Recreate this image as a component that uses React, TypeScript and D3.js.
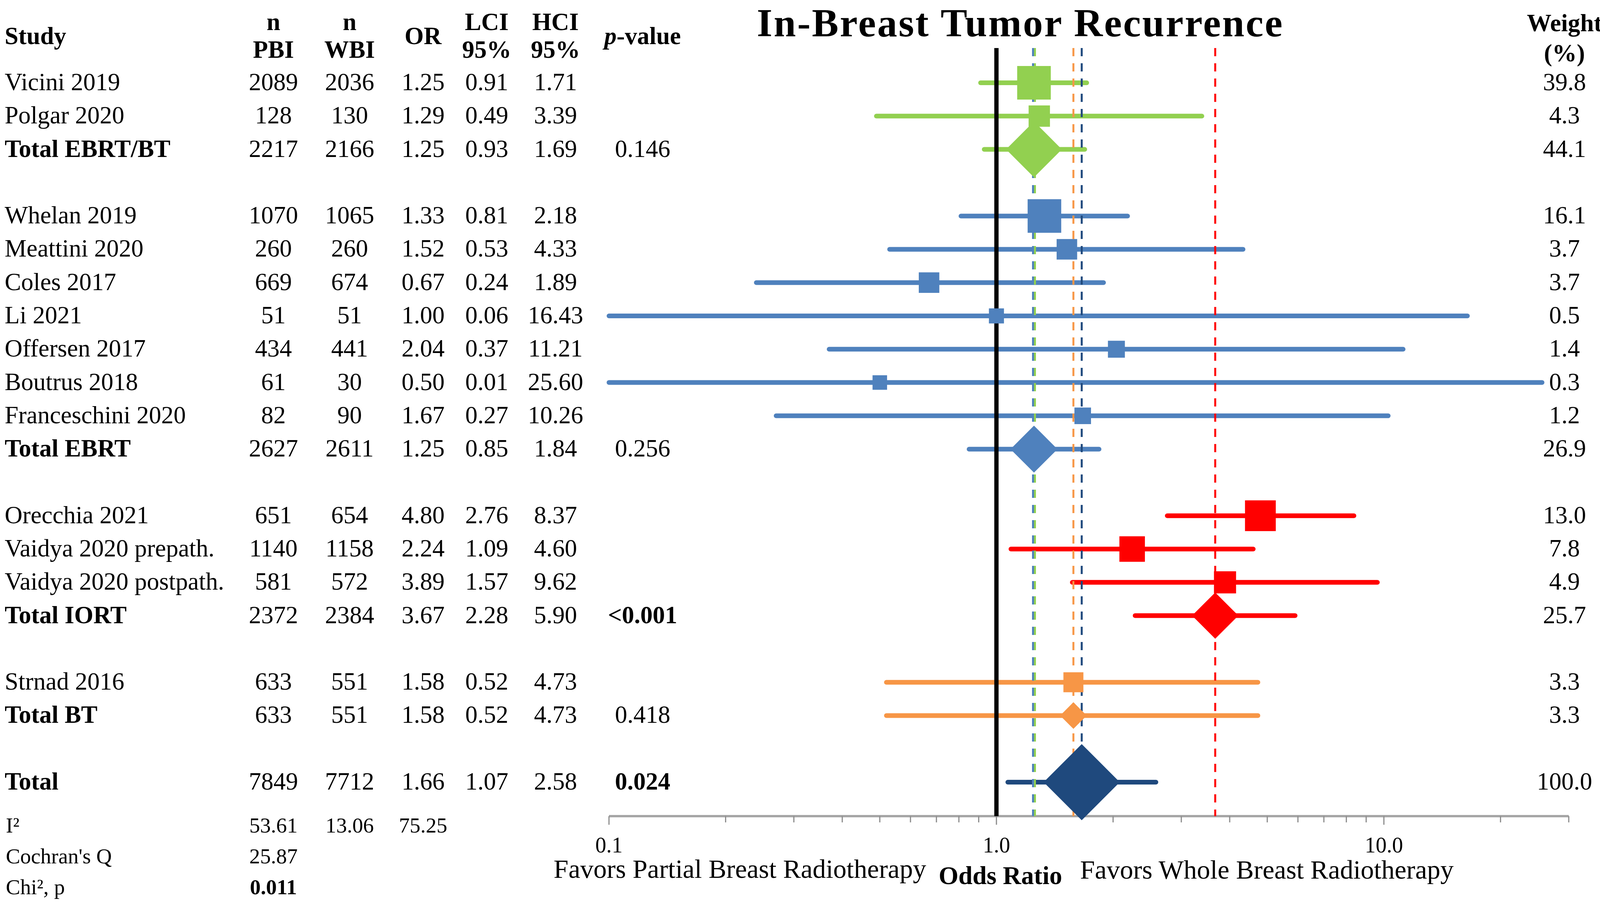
import React from 'react';
import * as d3 from 'd3';

// Study rows, in order of appearance
const studies = [
  'Vicini 2019', 'Polgar 2020', 'Total EBRT/BT',
  'Whelan 2019', 'Meattini 2020', 'Coles 2017', 'Li 2021', 'Offersen 2017', 'Boutrus 2018', 'Franceschini 2020', 'Total EBRT',
  'Orecchia 2021', 'Vaidya 2020 prepath.', 'Vaidya 2020 postpath.', 'Total IORT',
  'Strnad 2016', 'Total BT',
  'Total',
];
const groups = [
  'EBRT/BT', 'EBRT/BT', 'EBRT/BT',
  'EBRT', 'EBRT', 'EBRT', 'EBRT', 'EBRT', 'EBRT', 'EBRT', 'EBRT',
  'IORT', 'IORT', 'IORT', 'IORT',
  'BT', 'BT',
  'All',
];
const nPBI = [2089, 128, 2217, 1070, 260, 669, 51, 434, 61, 82, 2627, 651, 1140, 581, 2372, 633, 633, 7849];
const nWBI = [2036, 130, 2166, 1065, 260, 674, 51, 441, 30, 90, 2611, 654, 1158, 572, 2384, 551, 551, 7712];
const oddsRatio = [1.25, 1.29, 1.25, 1.33, 1.52, 0.67, 1.0, 2.04, 0.5, 1.67, 1.25, 4.8, 2.24, 3.89, 3.67, 1.58, 1.58, 1.66];
const lci = [0.91, 0.49, 0.93, 0.81, 0.53, 0.24, 0.06, 0.37, 0.01, 0.27, 0.85, 2.76, 1.09, 1.57, 2.28, 0.52, 0.52, 1.07];
const hci = [1.71, 3.39, 1.69, 2.18, 4.33, 1.89, 16.43, 11.21, 25.6, 10.26, 1.84, 8.37, 4.6, 9.62, 5.9, 4.73, 4.73, 2.58];
const pValues = ['', '', '0.146', '', '', '', '', '', '', '', '0.256', '', '', '', '<0.001', '', '0.418', '0.024'];
const weights = [39.8, 4.3, 44.1, 16.1, 3.7, 3.7, 0.5, 1.4, 0.3, 1.2, 26.9, 13.0, 7.8, 4.9, 25.7, 3.3, 3.3, 100.0];

const groupColors: Record<string, string> = {
  'EBRT/BT': '#92d050',
  EBRT: '#4f81bd',
  IORT: '#ff0000',
  BT: '#f79646',
  All: '#1f497d',
};

// heterogeneity block
const statLabels = ['I²', "Cochran's Q", 'Chi², p'];
const statValues = [['53.61', '13.06', '75.25'], ['25.87'], ['0.011']];

const tickLabels = ['0.1', '1.0', '10.0'];

const W = 4121;
const H = 2315;
const FONT = '"Liberation Serif", "Times New Roman", serif';

const isPooled = (i: number) => studies[i].startsWith('Total');
const isSignificant = (p: string) => p !== '' && (p.startsWith('<') || parseFloat(p) < 0.05);

export default function App() {
  const x = d3.scaleLog().domain([0.1, 30]).range([1559, 4016]);

  // row slots, with a blank row between groups
  let slot = 0;
  const slots = studies.map((_, i) => {
    if (i > 0 && groups[i] !== groups[i - 1]) slot++;
    return slot++;
  });
  const y = d3.scaleLinear().domain([0, d3.max(slots) as number]).range([212, 2003]);

  const squareSize = d3.scalePow().exponent(0.7).domain([0, 16.1]).range([34, 86]).clamp(true);
  const diamondSize = d3.scalePow().exponent(0.5).domain([0, 100]).range([40, 195]);

  const axisY = 2090;
  const refTop = 123;
  const textOff = 19;
  const fs = 63;

  const cols = { pbi: 700, wbi: 895, or: 1083, lci: 1246, hci: 1422, p: 1645, w: 4005 };

  // reference lines for pooled estimates, side-by-side when equal
  const pooledIdx = studies.map((_, i) => i).filter(isPooled);
  const refLines = pooledIdx.map((i) => {
    const same = pooledIdx.filter((j) => oddsRatio[j] === oddsRatio[i]);
    const k = same.indexOf(i);
    const n = same.length;
    const off = (n - 1 - k) * 5 - (n - 1) * 2.5;
    return { x: x(oddsRatio[i]) + off, color: groupColors[groups[i]] };
  });

  const ticks = x.ticks();
  const isMajor = (t: number) => Math.abs(Math.log10(t) - Math.round(Math.log10(t))) < 1e-9;

  const diamond = (cx: number, cy: number, s: number) =>
    `M${cx - s / 2},${cy}L${cx},${cy - s / 2}L${cx + s / 2},${cy}L${cx},${cy + s / 2}Z`;

  const headerBase1 = 77;
  const headerBase2 = 148;
  const headerMid = 113;

  return (
    <svg
      width={W}
      height={H}
      viewBox={`0 0 ${W} ${H}`}
      style={{ position: 'absolute', left: 0, top: 0, background: '#fff' }}
      fontFamily={FONT}
    >
      <rect width={W} height={H} fill="#fff" />

      {/* title */}
      <text x={2612} y={93} fontSize={102} letterSpacing={3.5} fontWeight="bold" textAnchor="middle" fill="#000">
        In-Breast Tumor Recurrence
      </text>

      {/* table headers */}
      <g fontSize={fs} fontWeight="bold" fill="#000" textAnchor="middle">
        <text x={12} y={headerMid} textAnchor="start">Study</text>
        <text x={cols.pbi} y={headerBase1}>n</text>
        <text x={cols.pbi} y={headerBase2}>PBI</text>
        <text x={cols.wbi} y={headerBase1}>n</text>
        <text x={cols.wbi} y={headerBase2}>WBI</text>
        <text x={cols.or} y={headerMid}>OR</text>
        <text x={cols.lci} y={headerBase1}>LCI</text>
        <text x={cols.lci} y={headerBase2}>95%</text>
        <text x={cols.hci} y={headerBase1}>HCI</text>
        <text x={cols.hci} y={headerBase2}>95%</text>
        <text x={cols.p} y={headerMid}>
          <tspan fontStyle="italic">p</tspan>-value
        </text>
        <text x={cols.w} y={80}>Weight</text>
        <text x={cols.w} y={157}>(%)</text>
      </g>

      {/* table rows */}
      <g fontSize={fs} fill="#000">
        {studies.map((s, i) => {
          const ty = y(slots[i]) + textOff;
          return (
            <g key={s}>
              <text x={12} y={ty} fontWeight={isPooled(i) ? 'bold' : 'normal'}>{s}</text>
              <text x={cols.pbi} y={ty} textAnchor="middle">{nPBI[i]}</text>
              <text x={cols.wbi} y={ty} textAnchor="middle">{nWBI[i]}</text>
              <text x={cols.or} y={ty} textAnchor="middle">{oddsRatio[i].toFixed(2)}</text>
              <text x={cols.lci} y={ty} textAnchor="middle">{lci[i].toFixed(2)}</text>
              <text x={cols.hci} y={ty} textAnchor="middle">{hci[i].toFixed(2)}</text>
              {pValues[i] && (
                <text x={cols.p} y={ty} textAnchor="middle" fontWeight={isSignificant(pValues[i]) ? 'bold' : 'normal'}>
                  {pValues[i]}
                </text>
              )}
              <text x={cols.w} y={ty} textAnchor="middle">{weights[i].toFixed(1)}</text>
            </g>
          );
        })}
      </g>

      {/* heterogeneity */}
      <g fontSize={55} fill="#000">
        {statLabels.map((l, i) => {
          const by = 2132 + i * 79;
          const vx = [cols.pbi, cols.wbi, cols.or];
          return (
            <g key={l}>
              <text x={15} y={by}>{l}</text>
              {statValues[i].map((v, k) => (
                <text key={k} x={vx[k]} y={by} textAnchor="middle" fontWeight={isSignificant(v) ? 'bold' : 'normal'}>
                  {v}
                </text>
              ))}
            </g>
          );
        })}
      </g>

      {/* axis */}
      <line x1={x(0.1)} x2={x(30)} y1={axisY} y2={axisY} stroke="#a6a6a6" strokeWidth={6} />
      {ticks.map((t) => (
        <line
          key={t}
          x1={x(t)}
          x2={x(t)}
          y1={axisY}
          y2={axisY + (isMajor(t) ? 22 : 16)}
          stroke="#8c8c8c"
          strokeWidth={3}
        />
      ))}
      {tickLabels.map((l) => (
        <text key={l} x={x(parseFloat(l))} y={2183} fontSize={56} textAnchor="middle" fill="#000">
          {l}
        </text>
      ))}
      <text x={2371} y={2248} fontSize={68} textAnchor="end" fill="#000">Favors Partial Breast Radiotherapy</text>
      <text x={2561} y={2264} fontSize={65} fontWeight="bold" textAnchor="middle" fill="#000">Odds Ratio</text>
      <text x={2765} y={2250} fontSize={68} textAnchor="start" fill="#000">Favors Whole Breast Radiotherapy</text>

      {/* confidence intervals */}
      {studies.map((s, i) => (
        <line
          key={'ci' + s}
          x1={x(Math.max(lci[i], 0.1))}
          x2={x(Math.min(hci[i], 30))}
          y1={y(slots[i])}
          y2={y(slots[i])}
          stroke={groupColors[groups[i]]}
          strokeWidth={12}
          strokeLinecap="round"
        />
      ))}

      {/* pooled reference lines */}
      {refLines.map((r, i) => (
        <line
          key={'ref' + i}
          x1={r.x}
          x2={r.x}
          y1={refTop}
          y2={axisY}
          stroke={r.color}
          strokeWidth={5}
          strokeDasharray="21 18"
        />
      ))}

      {/* line of no effect */}
      <line x1={x(1)} x2={x(1)} y1={refTop} y2={axisY} stroke="#000" strokeWidth={11} />

      {/* markers */}
      {studies.map((s, i) => {
        const cx = x(oddsRatio[i]);
        const cy = y(slots[i]);
        const c = groupColors[groups[i]];
        if (isPooled(i)) {
          return <path key={'m' + s} d={diamond(cx, cy, diamondSize(weights[i]))} fill={c} />;
        }
        const sz = squareSize(weights[i]);
        return <rect key={'m' + s} x={cx - sz / 2} y={cy - sz / 2} width={sz} height={sz} fill={c} />;
      })}
    </svg>
  );
}
